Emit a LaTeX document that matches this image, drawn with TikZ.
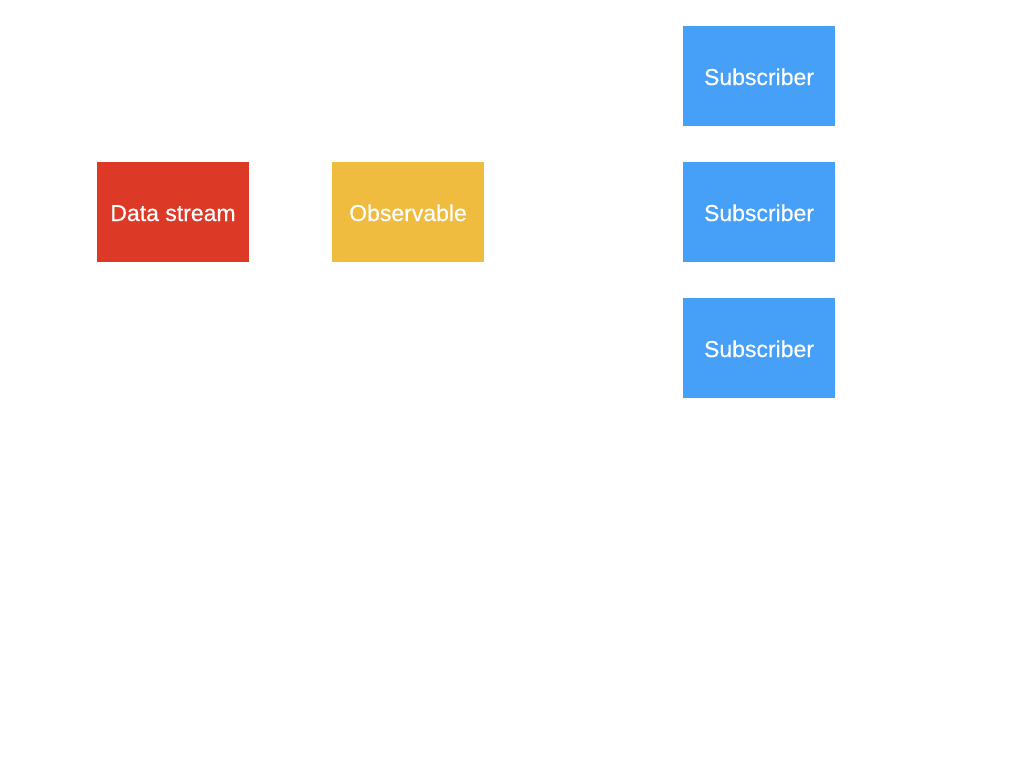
\documentclass[tikz,border=0pt]{standalone}
\usepackage{fontspec}
\setmainfont{Liberation Sans}
\newfontfamily\boxfont{Liberation Sans}[FakeBold=0.4]
\definecolor{cred}{HTML}{DC3A26}
\definecolor{cyellow}{HTML}{F0BC40}
\definecolor{cblue}{HTML}{47A0F8}
\begin{document}
\begin{tikzpicture}[x=1pt,y=-1pt,
  box/.style={minimum width=152pt,minimum height=100pt,inner sep=0pt,text=white,
    text height=18pt,text depth=0pt,font=\boxfont\fontsize{23}{26}\selectfont}]
\useasboundingbox[fill=white] (0,0) rectangle (1024,768);
\node[box,fill=cred] (data) at (173,212) {Data stream};
\node[box,fill=cyellow] (obs) at (408,212) {Observable};
\node[box,fill=cblue] (s1) at (759,76) {Subscriber};
\node[box,fill=cblue] (s2) at (759,212) {Subscriber};
\node[box,fill=cblue] (s3) at (759,348) {Subscriber};
\end{tikzpicture}
\end{document}
